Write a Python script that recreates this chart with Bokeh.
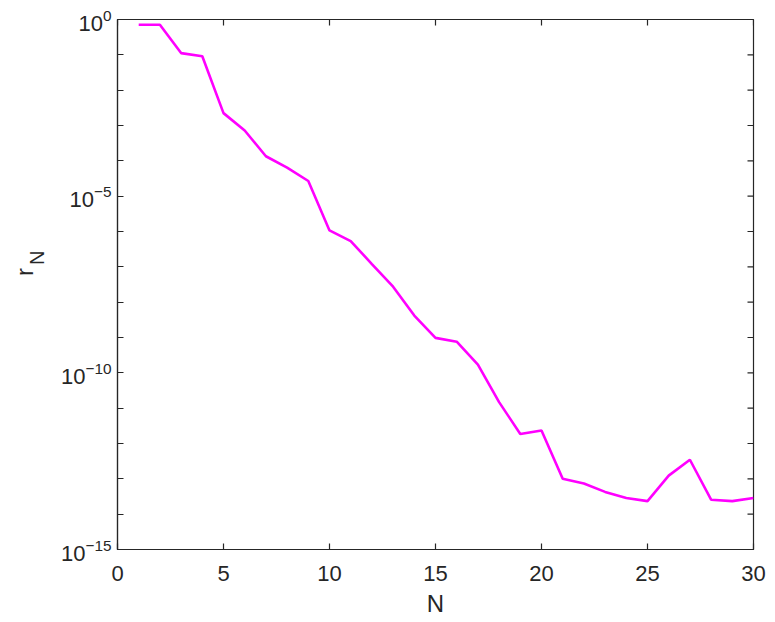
import math
from bokeh.plotting import figure
from bokeh.layouts import row
from bokeh.models import Range1d, FixedTicker, Label, LogTickFormatter
from bokeh.embed import file_html
from bokeh.resources import INLINE

N = list(range(1, 31))
r_N = [7.08e-1, 7.08e-1, 1.12e-1, 9.12e-2, 2.24e-3, 7.24e-4, 1.35e-4, 6.46e-5, 2.69e-5, 1.07e-6,
       5.37e-7, 1.20e-7, 2.75e-8, 4.17e-9, 9.77e-10, 7.59e-10, 1.70e-10, 1.48e-11, 1.86e-12, 2.34e-12,
       1.00e-13, 7.41e-14, 4.27e-14, 2.88e-14, 2.34e-14, 1.23e-13, 3.47e-13, 2.57e-14, 2.34e-14, 2.88e-14]
x_ticks = [0, 5, 10, 15, 20, 25, 30]
y_major = [1e-15, 1e-10, 1e-5, 1e0]
y_minor = [1e-14, 1e-13, 1e-12, 1e-11, 1e-9, 1e-8, 1e-7, 1e-6, 1e-4, 1e-3, 1e-2, 1e-1]
x_min, x_max = 0, 30
y_min, y_max = 1e-15, 1e0

FONT = "Liberation Sans"
AX = "#262626"
H = 622
LW = 50  # width of the strip that holds the rotated y-axis title

p = figure(width=775 - LW, height=H, output_backend="svg", toolbar_location=None,
           x_range=Range1d(x_min, x_max), y_range=Range1d(y_min, y_max), y_axis_type="log",
           min_border_left=117 - LW, min_border_right=22, min_border_top=19, min_border_bottom=73)
p.xgrid.visible = False
p.ygrid.visible = False
p.outline_line_color = AX
p.outline_line_width = 1.2
p.background_fill_color = "white"
p.border_fill_color = "white"

p.line(N, r_N, line_color="#ff00ff", line_width=2.6)

# mirrored tick marks on top and right edges (half of each dash is clipped by the frame)
p.scatter(x_ticks, [y_max] * len(x_ticks), marker="dash", size=12, angle=math.pi / 2,
          line_color=AX, line_width=1.2)
y_all = y_major + y_minor
p.scatter([x_max] * len(y_all), y_all, marker="dash", size=12,
          line_color=AX, line_width=1.2)

def style(ax):
    ax.axis_line_color = AX
    ax.axis_line_width = 1.2
    ax.major_tick_line_color = AX
    ax.minor_tick_line_color = AX
    ax.major_tick_line_width = 1.2
    ax.minor_tick_line_width = 1.2
    ax.major_tick_in = 6
    ax.major_tick_out = 0
    ax.minor_tick_in = 6
    ax.minor_tick_out = 0
    ax.major_label_text_font = FONT
    ax.major_label_text_color = AX
    ax.major_label_text_font_size = "22px"
    ax.axis_label_text_font = FONT
    ax.axis_label_text_color = AX
    ax.axis_label_text_font_style = "normal"

xax = p.xaxis[0]
xax.ticker = FixedTicker(ticks=x_ticks)
style(xax)
xax.minor_tick_line_color = None
xax.major_label_standoff = 16
xax.axis_label = "N"
xax.axis_label_text_font_size = "24px"
xax.axis_label_standoff = 6

yax = p.yaxis[0]
yax.ticker = FixedTicker(ticks=y_major, minor_ticks=y_minor)
yax.formatter = LogTickFormatter()
style(yax)
yax.major_label_standoff = 6

# narrow strip holding the y-axis title r_N (r with subscript N), rotated
t = figure(width=LW, height=H, output_backend="svg", toolbar_location=None,
           x_range=Range1d(0, LW), y_range=Range1d(H, 0),
           min_border_left=0, min_border_right=0, min_border_top=0, min_border_bottom=0)
t.axis.visible = False
t.grid.visible = False
t.outline_line_color = None
t.background_fill_color = "white"
t.border_fill_color = "white"
t.add_layout(Label(x=24, y=301, text="r", angle=math.pi / 2,
                   text_font=FONT, text_font_size="24px", text_color=AX,
                   text_align="left", text_baseline="alphabetic"))
t.add_layout(Label(x=36, y=288, text="N", angle=math.pi / 2,
                   text_font=FONT, text_font_size="20px", text_color=AX,
                   text_align="left", text_baseline="alphabetic"))

layout = row(t, p, spacing=0)
open("out.html", "w").write(file_html(layout, INLINE))
